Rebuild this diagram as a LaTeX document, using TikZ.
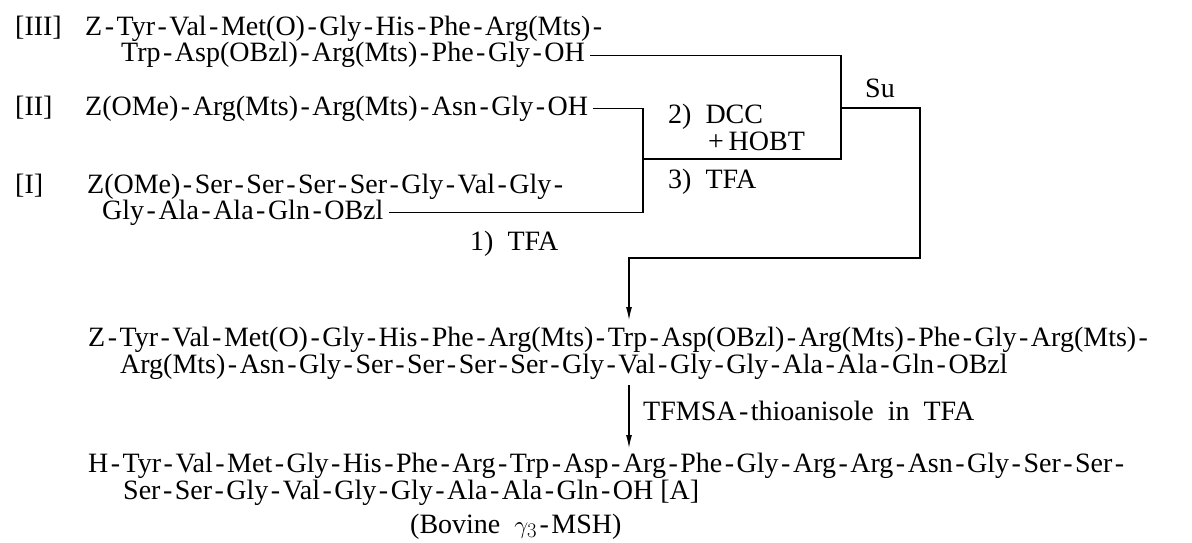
\documentclass[tikz,border=0pt]{standalone}
\usepackage{fontspec}
\setmainfont{Liberation Serif}
\usetikzlibrary{arrows.meta}

% peptide bond with a little air round it
\newcommand{\lnk}{\kern2.5pt-\kern2.5pt}

\tikzset{
  seq/.style={anchor=base west, inner sep=0pt, text height=19pt, text depth=6pt},
  conn/.style={line width=1.1pt},
  rxn/.style={conn, -{Latex[length=13pt,width=6pt]}},
}

\begin{document}
\begin{tikzpicture}[x=1pt,y=-1pt,font=\fontsize{28}{25}\selectfont]
  \useasboundingbox (0,0) rectangle (1192,543);
  % fragments
  \node[seq] (n3) at (15,36) {[III]};
  \node[seq] (c3a) at (85,36) {Z\lnk Tyr\lnk Val\lnk Met(O)\lnk Gly\lnk His\lnk Phe\lnk Arg(Mts)\lnk};
  \node[seq] (c3b) at (121,62) {Trp\lnk Asp(OBzl)\lnk Arg(Mts)\lnk Phe\lnk Gly\lnk OH};
  \node[seq] (n2) at (15,115) {[II]};
  \node[seq] (c2) at (85,115) {Z(OMe)\lnk Arg(Mts)\lnk Arg(Mts)\lnk Asn\lnk Gly\lnk OH};
  \node[seq] (n1) at (15,193) {[I]};
  \node[seq] (c1a) at (87,193) {Z(OMe)\lnk Ser\lnk Ser\lnk Ser\lnk Ser\lnk Gly\lnk Val\lnk Gly\lnk};
  \node[seq] (c1b) at (102,219) {Gly\lnk Ala\lnk Ala\lnk Gln\lnk OBzl};

  % coupling steps
  \coordinate (jl) at (643,159);
  \coordinate (jr) at (841,108);
  \coordinate (jd) at (920,258);
  \coordinate (tip1) at (629,320);
  \draw[conn,shorten <=5pt] (c3b.east) -| (jr |- jl) -- (jl);
  \draw[conn,shorten <=5pt,shorten >=5pt] (c2.east) -| (jl |- c1b.east) -- (c1b.east);
  \draw[rxn] (jr) -- (jd |- jr) -- (jd) -| (tip1);

  \node[seq] (l1) at (470,250) {1)~~TFA};
  \node[seq] (l2) at (668,124) {2)~~DCC};
  \node[seq] (l2b) at (708,150) {+\,HOBT};
  \node[seq] (l3) at (668,188) {3)~~TFA};
  \node[seq] (su) at (865,98) {Su};

  % protected peptide
  \node[seq] (p1) at (88,346) {Z\lnk Tyr\lnk Val\lnk Met(O)\lnk Gly\lnk His\lnk Phe\lnk Arg(Mts)\lnk Trp\lnk Asp(OBzl)\lnk Arg(Mts)\lnk Phe\lnk Gly\lnk Arg(Mts)\lnk};
  \node[seq] (p2) at (120,373) {Arg(Mts)\lnk Asn\lnk Gly\lnk Ser\lnk Ser\lnk Ser\lnk Ser\lnk Gly\lnk Val\lnk Gly\lnk Gly\lnk Ala\lnk Ala\lnk Gln\lnk OBzl};

  % deprotection
  \coordinate (tip2) at (629,448);
  \draw[rxn,shorten <=6pt] (p2.south -| tip2) -- (tip2);
  \node[seq] (tf) at (643,420) {TFMSA\lnk thioanisole~~in~~TFA};

  % final peptide
  \node[seq] (f1) at (88,472) {H\lnk Tyr\lnk Val\lnk Met\lnk Gly\lnk His\lnk Phe\lnk Arg\lnk Trp\lnk Asp\lnk Arg\lnk Phe\lnk Gly\lnk Arg\lnk Arg\lnk Asn\lnk Gly\lnk Ser\lnk Ser\lnk};
  \node[seq] (f2) at (123,499) {Ser\lnk Ser\lnk Gly\lnk Val\lnk Gly\lnk Gly\lnk Ala\lnk Ala\lnk Gln\lnk OH~[A]};
  \node[seq] (bov) at (410,533) {(Bovine~~$\gamma_3$\lnk MSH)};
\end{tikzpicture}
\end{document}
